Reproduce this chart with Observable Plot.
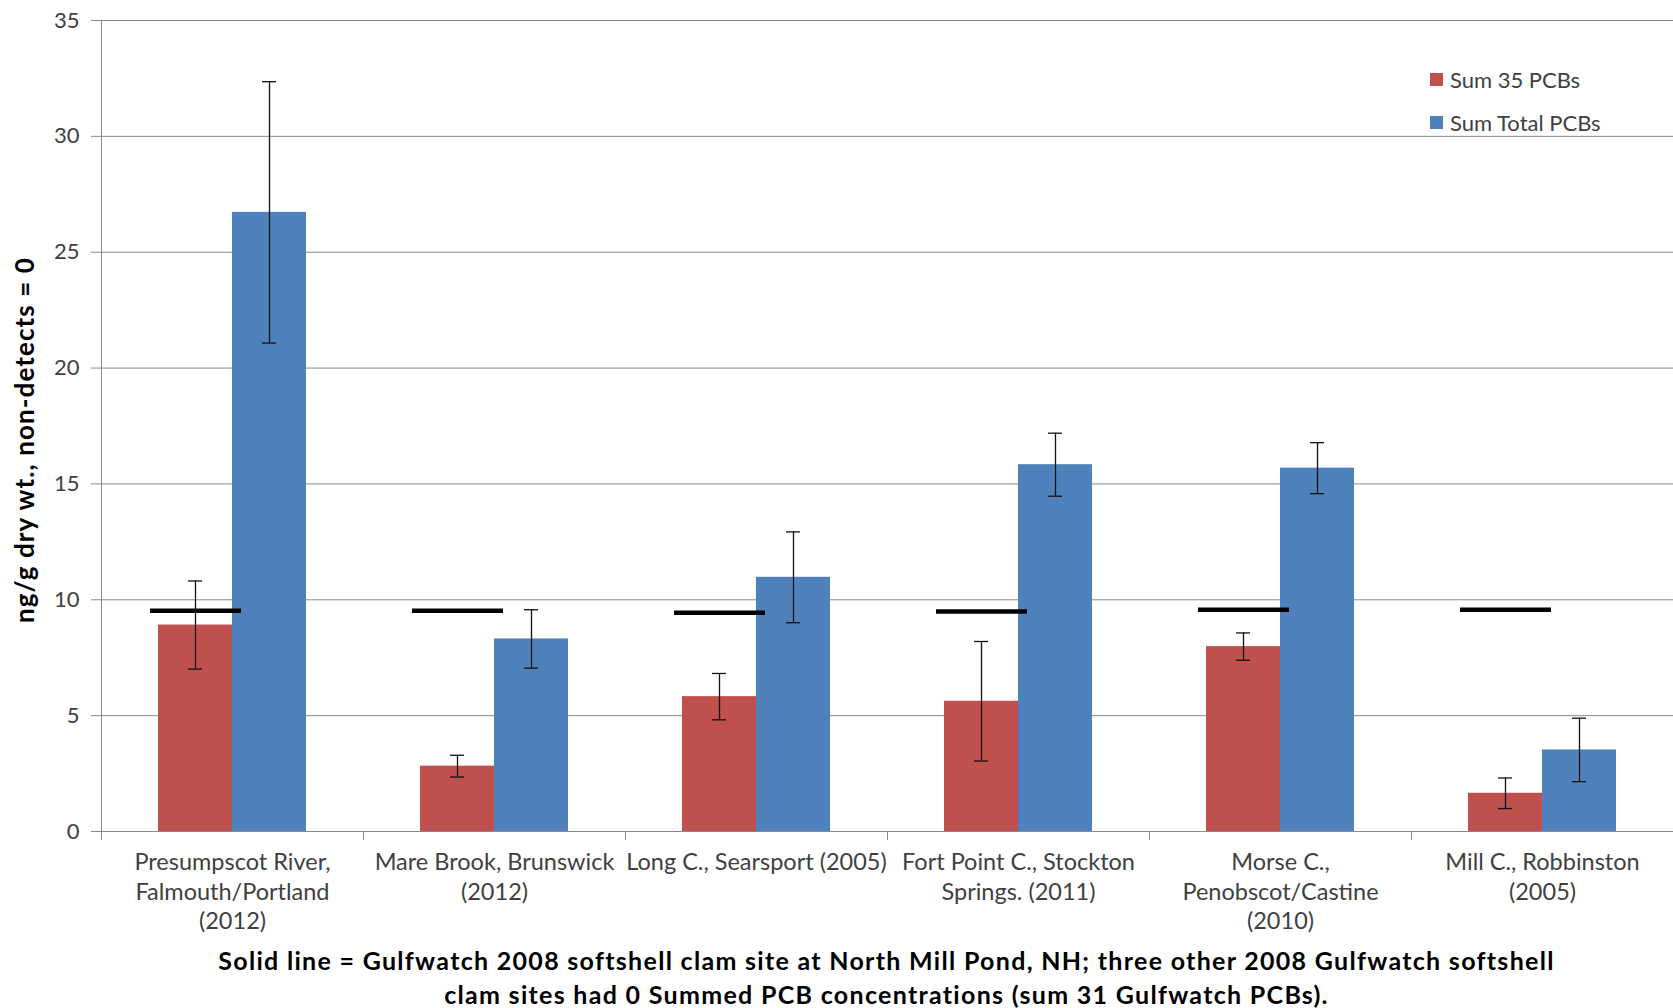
<!DOCTYPE html>
<html>
<head>
<meta charset="utf-8">
<script src="https://cdn.jsdelivr.net/npm/d3@7"></script>
<script src="https://cdn.jsdelivr.net/npm/@observablehq/plot@0.6"></script>
<style>
  body { margin: 0; background: #fff; font-family: Lato, "Open Sans", sans-serif; }
  #wrap { position: relative; width: 1673px; height: 1008px; overflow: hidden; }
  #chart svg { display: block; }
  #legend { position: absolute; left: 1430px; top: 58px; color: #404040; font-size: 22px; }
  #legend .item { display: flex; align-items: center; height: 43px; }
  #legend .sw { width: 13px; height: 13px; margin-right: 7px; }
  #ytitle { position: absolute; left: 24px; top: 440px; transform: translate(-50%, -50%) rotate(-90deg);
            white-space: nowrap; font-weight: bold; font-size: 26px; letter-spacing: 1.1px; color: #000; }
  #caption { position: absolute; left: 100px; width: 1573px; top: 943px; text-align: center;
             font-weight: bold; font-size: 25px; letter-spacing: 1.3px; line-height: 34px; color: #000; }
</style>
</head>
<body>
<div id="wrap">
  <div id="chart"></div>
  <div id="ytitle"></div>
  <div id="legend"></div>
  <div id="caption"></div>
</div>
<script>
// ---- data ----
const sites = [
  "Presumpscot River,\nFalmouth/Portland\n(2012)",
  "Mare Brook, Brunswick\n(2012)",
  "Long C., Searsport (2005)",
  "Fort Point C., Stockton\nSprings. (2011)",
  "Morse C.,\nPenobscot/Castine\n(2010)",
  "Mill C., Robbinston\n(2005)"
];
const seriesNames = ["Sum 35 PCBs", "Sum Total PCBs"];
const seriesColors = ["#C0504D", "#4F81BD"];
const sum35 = [8.91, 2.82, 5.82, 5.62, 7.98, 1.65];
const sum35Err = [1.90, 0.47, 1.00, 2.58, 0.59, 0.66];
const sumTotal = [26.72, 8.31, 10.97, 15.83, 15.68, 3.52];
const sumTotalErr = [5.64, 1.26, 1.96, 1.36, 1.10, 1.37];
const gulfwatch2008 = [9.53, 9.53, 9.44, 9.49, 9.57, 9.57];
const yTicks = [0, 5, 10, 15, 20, 25, 30, 35];
const yTitle = "ng/g dry wt., non-detects = 0";
const captionLines = [
  "Solid line = Gulfwatch 2008 softshell clam site at North Mill Pond, NH; three other 2008 Gulfwatch softshell",
  "clam sites had 0 Summed PCB concentrations (sum 31 Gulfwatch PCBs)."
];

// ---- tables built from the arrays ----
const rows = [];
sites.forEach((s, i) => {
  rows.push({site: s, series: seriesNames[0], value: sum35[i], err: sum35Err[i]});
  rows.push({site: s, series: seriesNames[1], value: sumTotal[i], err: sumTotalErr[i]});
});
const lineRows = sites.map((s, i) => ({site: s, series: seriesNames[0], value: gulfwatch2008[i]}));

// ---- layout ----
const W = 1673, H = 935, mTop = 20, mBottom = H - 831, mLeft = 100;
const plotH = H - mTop - mBottom;
const gray = "#8a8a8a";

const chart = Plot.plot({
  width: W, height: H,
  marginLeft: mLeft, marginRight: 0, marginTop: mTop, marginBottom: mBottom,
  style: {fontFamily: "Lato, 'Open Sans', sans-serif", fontSize: "20px", color: "#404040", background: "#fff"},
  fx: {domain: sites, padding: 0, axis: null, label: null},
  x: {domain: seriesNames, paddingInner: 0, paddingOuter: 0.77, axis: null},
  y: {domain: [0, 35], axis: null},
  color: {domain: seriesNames, range: seriesColors},
  marks: [
    Plot.gridY(yTicks, {stroke: gray, strokeOpacity: 1}),
    Plot.axisY(yTicks, {tickSize: 10, tickPadding: 12, stroke: gray, fontSize: 22, label: null}),
    Plot.frame({anchor: "left", facetAnchor: "left", stroke: gray}),
    Plot.frame({anchor: "left", stroke: gray, insetTop: plotH, insetBottom: -8}),
    Plot.barY(rows, {fx: "site", x: "series", y: "value", fill: "series"}),
    Plot.tickY(lineRows, {fx: "site", x: "series", y: "value", stroke: "#000", strokeWidth: 4.5, insetLeft: -8, insetRight: -9}),
    Plot.ruleX(rows, {fx: "site", x: "series", y1: d => d.value - d.err, y2: d => d.value + d.err, stroke: "#111", strokeWidth: 1.3}),
    Plot.tickY(rows, {fx: "site", x: "series", y: d => d.value - d.err, stroke: "#111", strokeWidth: 1.3, insetLeft: 30, insetRight: 30}),
    Plot.tickY(rows, {fx: "site", x: "series", y: d => d.value + d.err, stroke: "#111", strokeWidth: 1.3, insetLeft: 30, insetRight: 30}),
    Plot.ruleY([0], {stroke: gray}),
    Plot.axisFx({anchor: "bottom", label: null, tickSize: 0, tickPadding: 17, fontSize: 23.5, lineHeight: 1.27, fill: "#404040"})
  ]
});
document.getElementById("chart").appendChild(chart);

// legend
const legend = document.getElementById("legend");
seriesNames.forEach((n, i) => {
  const item = document.createElement("div");
  item.className = "item";
  const sw = document.createElement("div");
  sw.className = "sw";
  sw.style.background = seriesColors[i];
  const t = document.createElement("span");
  t.textContent = n;
  item.appendChild(sw); item.appendChild(t);
  legend.appendChild(item);
});

document.getElementById("ytitle").textContent = yTitle;
const cap = document.getElementById("caption");
captionLines.forEach((l, i) => {
  if (i) cap.appendChild(document.createElement("br"));
  cap.appendChild(document.createTextNode(l));
});
</script>
</body>
</html>
